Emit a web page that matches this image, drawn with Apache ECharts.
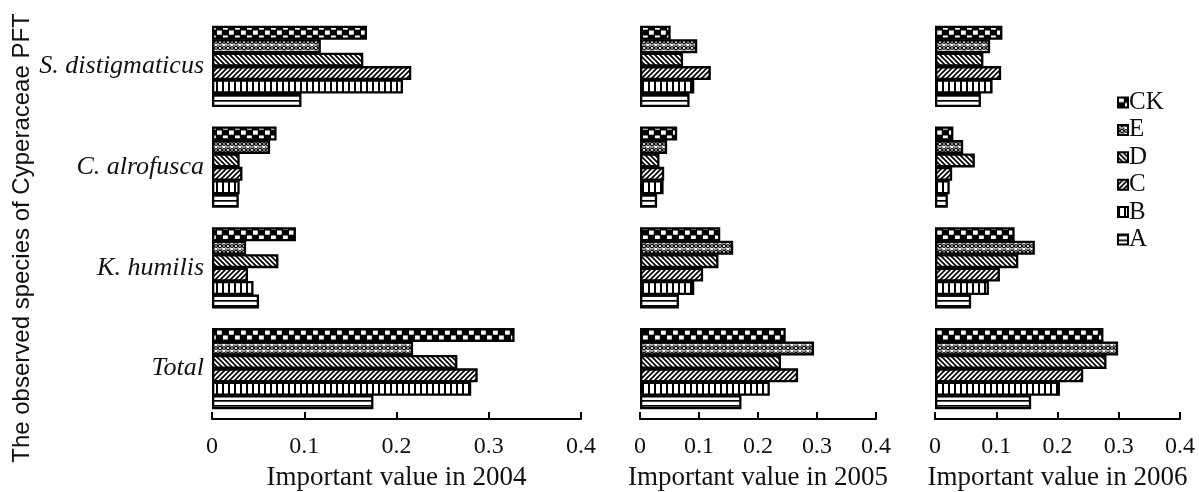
<!DOCTYPE html>
<html>
<head>
<meta charset="utf-8">
<script src="https://cdn.jsdelivr.net/npm/echarts@6/dist/echarts.min.js"></script>
<style>
html,body{margin:0;padding:0;background:#fff;}
#chart{width:1199px;height:492px;}
</style>
</head>
<body>
<div id="chart"></div>
<script>
// Categories (bottom to top)
const categories = ['Total', 'K. humilis', 'C. alrofusca', 'S. distigmaticus'];
// series drawn top-to-bottom within each group
const seriesNames = ['CK', 'E', 'D', 'C', 'B', 'A'];
const legendOrder = ['CK', 'E', 'D', 'C', 'B', 'A'];
const xTicks = [0, 0.1, 0.2, 0.3, 0.4];
const yearTitles = ['Important value in 2004', 'Important value in 2005', 'Important value in 2006'];
const yTitle = 'The observed species of Cyperaceae PFT';

// 2004 values, order: Total, K. humilis, C. alrofusca, S. distigmaticus
const y2004_A  = [0.175, 0.051, 0.029, 0.097];
const y2004_B  = [0.281, 0.045, 0.030, 0.207];
const y2004_C  = [0.288, 0.039, 0.033, 0.216];
const y2004_D  = [0.266, 0.072, 0.030, 0.164];
const y2004_E  = [0.218, 0.037, 0.063, 0.118];
const y2004_CK = [0.328, 0.091, 0.070, 0.168];
// 2005
const y2005_A  = [0.172, 0.066, 0.029, 0.084];
const y2005_B  = [0.220, 0.092, 0.040, 0.092];
const y2005_C  = [0.268, 0.107, 0.041, 0.120];
const y2005_D  = [0.239, 0.133, 0.033, 0.073];
const y2005_E  = [0.295, 0.158, 0.046, 0.097];
const y2005_CK = [0.247, 0.136, 0.063, 0.052];
// 2006
const y2006_A  = [0.157, 0.059, 0.021, 0.075];
const y2006_B  = [0.204, 0.088, 0.024, 0.094];
const y2006_C  = [0.242, 0.106, 0.028, 0.108];
const y2006_D  = [0.280, 0.136, 0.065, 0.079];
const y2006_E  = [0.299, 0.163, 0.046, 0.090];
const y2006_CK = [0.275, 0.130, 0.030, 0.110];

const years = [
  { CK: y2004_CK, E: y2004_E, D: y2004_D, C: y2004_C, B: y2004_B, A: y2004_A },
  { CK: y2005_CK, E: y2005_E, D: y2005_D, C: y2005_C, B: y2005_B, A: y2005_A },
  { CK: y2006_CK, E: y2006_E, D: y2006_D, C: y2006_C, B: y2006_B, A: y2006_A }
];

function makeTile(w, h, draw) {
  const c = document.createElement('canvas');
  c.width = w; c.height = h;
  const ctx = c.getContext('2d');
  ctx.fillStyle = '#fff';
  ctx.fillRect(0, 0, w, h);
  ctx.fillStyle = '#000';
  ctx.strokeStyle = '#000';
  draw(ctx, w, h);
  return { image: c, repeat: 'repeat' };
}

const patterns = {
  A: makeTile(6, 5, (ctx, w) => { ctx.fillRect(0, 0, w, 1.7); }),
  B: makeTile(6, 6, (ctx, w, h) => { ctx.fillRect(0, 0, 2, h); }),
  C: makeTile(5, 5, (ctx, w, h) => {
    ctx.lineWidth = 1.7;
    ctx.beginPath();
    ctx.moveTo(-1, h + 1); ctx.lineTo(w + 1, -1);
    ctx.moveTo(-1, 1); ctx.lineTo(1, -1);
    ctx.moveTo(w - 1, h + 1); ctx.lineTo(w + 1, h - 1);
    ctx.stroke();
  }),
  D: makeTile(5, 5, (ctx, w, h) => {
    ctx.lineWidth = 1.7;
    ctx.beginPath();
    ctx.moveTo(-1, -1); ctx.lineTo(w + 1, h + 1);
    ctx.moveTo(w - 1, -1); ctx.lineTo(w + 1, 1);
    ctx.moveTo(-1, h - 1); ctx.lineTo(1, h + 1);
    ctx.stroke();
  }),
  E: makeTile(8, 6, (ctx) => {
    ctx.lineWidth = 1.3;
    ctx.beginPath();
    ctx.moveTo(0, 1.5); ctx.lineTo(2, 0.5); ctx.lineTo(4, 2); ctx.lineTo(6, 0.5); ctx.lineTo(8, 1.5);
    ctx.moveTo(0, 4.5); ctx.lineTo(2, 5.5); ctx.lineTo(4, 4); ctx.lineTo(6, 5.5); ctx.lineTo(8, 4.5);
    ctx.stroke();
    ctx.fillRect(1, 2.6, 1.5, 1.2);
    ctx.fillRect(5, 2.6, 1.5, 1.2);
  }),
  CK: makeTile(12, 10, (ctx, w, h) => {
    ctx.fillRect(0, 0, w, h);
    ctx.fillStyle = '#fff';
    ctx.fillRect(1, 0.5, 4.8, 4.2);
    ctx.fillRect(7, 5.5, 4.8, 4.2);
  })
};

const gridDefs = [
  { left: 212, right: 1199 - 581, top: 16, bottom: 73, outerBoundsMode: 'none', containLabel: false },
  { left: 640, right: 1199 - 876, top: 16, bottom: 73, outerBoundsMode: 'none', containLabel: false },
  { left: 935, right: 1199 - 1180, top: 16, bottom: 73, outerBoundsMode: 'none', containLabel: false }
];

const serif = '"Liberation Serif", "Times New Roman", serif';

const xAxes = gridDefs.map((g, i) => ({
  type: 'value',
  gridIndex: i,
  min: xTicks[0],
  max: xTicks[xTicks.length - 1],
  interval: 0.1,
  name: yearTitles[i],
  nameLocation: 'middle',
  nameGap: 45,
  nameTextStyle: { fontFamily: serif, fontSize: 27, color: '#111' },
  axisLine: { show: true, lineStyle: { color: '#000', width: 2 } },
  axisTick: { show: true, inside: true, length: 7, lineStyle: { color: '#000', width: 2 } },
  axisLabel: { margin: 16, fontFamily: serif, fontSize: 24, color: '#111',
    formatter: v => String(+v.toFixed(1)) },
  splitLine: { show: false }
}));

const yAxes = gridDefs.map((g, i) => ({
  type: 'category',
  gridIndex: i,
  data: categories,
  axisLine: { show: false },
  axisTick: { show: false },
  axisLabel: { show: i === 0, margin: 8, fontFamily: serif, fontStyle: 'italic', fontSize: 26, color: '#111' },
  splitLine: { show: false }
}));

const series = [];
years.forEach((vals, gi) => {
  seriesNames.forEach((name) => {
    series.push({
      type: 'bar',
      name: name,
      xAxisIndex: gi,
      yAxisIndex: gi,
      data: vals[name],
      barWidth: 14,
      barGap: '-4%',
      itemStyle: { color: patterns[name], borderColor: '#000', borderWidth: 2.3 },
      emphasis: { disabled: true },
      animation: false
    });
  });
});

const chart = echarts.init(document.getElementById('chart'), null, { renderer: 'canvas' });
chart.setOption({
  backgroundColor: '#fff',
  animation: false,
  grid: gridDefs,
  xAxis: xAxes,
  yAxis: yAxes,
  legend: {
    data: legendOrder,
    orient: 'vertical',
    left: 1112,
    top: 85,
    itemWidth: 10,
    itemHeight: 10,
    itemGap: 2.4,
    icon: 'rect',
    textStyle: { fontFamily: serif, fontSize: 25, lineHeight: 24, color: '#111', padding: [0, 0, 0, -4] },
    selectedMode: false
  },
  graphic: [{
    type: 'text',
    x: 22,
    y: 238,
    rotation: Math.PI / 2,
    style: {
      text: yTitle,
      fontFamily: '"Liberation Sans", Arial, sans-serif',
      fontSize: 24,
      fill: '#111',
      align: 'center',
      verticalAlign: 'middle'
    }
  }],
  series: series
});
</script>
</body>
</html>
